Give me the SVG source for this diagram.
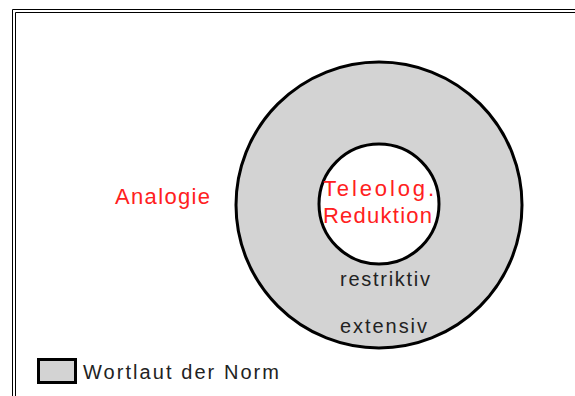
<svg xmlns="http://www.w3.org/2000/svg" width="575" height="396" viewBox="0 0 575 396">
<style>
.t{font-family:"Liberation Sans",Arial,sans-serif;}
.red{fill:#ff2020;font-size:22px;}
.blk{fill:#222;font-size:20px;}
.ring{stroke:#000;stroke-width:3;}
</style>
<rect width="575" height="396" fill="#fff"/>
<g id="frame" fill="none" stroke="#000" stroke-width="1">
<path d="M12.5 396 V9.5 H575"/>
<path d="M15.5 396 V12.5 H575"/>
</g>
<g id="wortlaut">
<circle class="ring" cx="379" cy="205" r="143" fill="#d3d3d3"/>
</g>
<g id="teleolog">
<circle class="ring" cx="379" cy="204" r="60" fill="#fff"/>
<text class="t red" x="323" y="196" textLength="111" lengthAdjust="spacing">Teleolog.</text>
<text class="t red" x="323" y="223" textLength="109" lengthAdjust="spacing">Reduktion</text>
</g>
<g id="analogie">
<text class="t red" x="115" y="204" textLength="95" lengthAdjust="spacing">Analogie</text>
</g>
<g id="restriktiv">
<text class="t blk" x="340" y="286" textLength="90" lengthAdjust="spacing">restriktiv</text>
</g>
<g id="extensiv">
<text class="t blk" x="340" y="333" textLength="87" lengthAdjust="spacing">extensiv</text>
</g>
<g id="legend">
<rect x="38.5" y="359.5" width="37" height="23" fill="#d3d3d3" stroke="#000" stroke-width="3"/>
<text class="t blk" x="83" y="379" textLength="196" lengthAdjust="spacing">Wortlaut der Norm</text>
</g>
<g id="connectors"/>
</svg>
